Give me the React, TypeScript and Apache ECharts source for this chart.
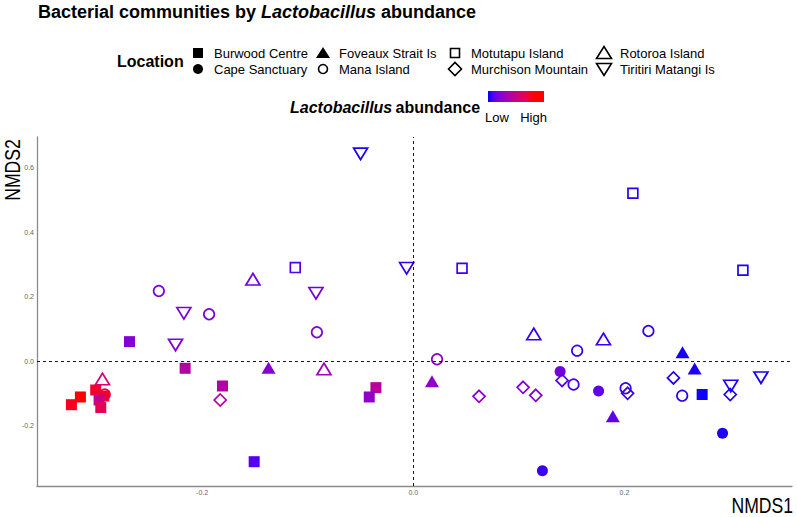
import React, { useEffect, useRef } from 'react';
import * as echarts from 'echarts';

// ---------- data: [NMDS1, NMDS2, Lactobacillus abundance (0 = low, 1 = high)] ----------
const burwoodCentre = [
  [-0.3238, -0.1344, 0.95], [-0.3153, -0.1105, 1.0], [-0.3008, -0.0889, 0.92],
  [-0.2932, -0.1074, 0.95], [-0.2976, -0.1198, 0.55], [-0.296, -0.143, 0.82],
  [-0.2688, 0.0607, 0.28], [-0.2161, -0.0217, 0.5], [-0.1807, -0.0765, 0.5],
  [-0.1507, -0.3108, 0.12], [-0.0354, -0.0817, 0.52], [-0.0417, -0.1105, 0.33],
  [0.2736, -0.1028, 0.02],
];
const capeSanctuary = [
  [0.1391, -0.0316, 0.22], [0.1755, -0.092, 0.15], [0.1223, -0.3387, 0.08], [0.2929, -0.2229, 0.04],
];
const foveauxStrait = [
  [-0.1371, -0.0198, 0.28], [0.0177, -0.0619, 0.32], [0.189, -0.1703, 0.15],
  [0.255, 0.0279, 0.03], [0.2665, -0.0223, 0.04],
];
const manaIsland = [
  [-0.241, 0.2176, 0.23], [-0.1934, 0.1455, 0.23], [-0.0913, 0.0898, 0.26],
  [-0.2922, -0.1028, 0.8], [0.0225, 0.0062, 0.3], [0.1552, 0.0328, 0.08],
  [0.1518, -0.0718, 0.1], [0.2227, 0.0938, 0.07], [0.2011, -0.0836, 0.08], [0.2547, -0.1065, 0.05],
];
const motutapuIsland = [
  [-0.1118, 0.2898, 0.12], [0.0462, 0.2879, 0.08], [0.208, 0.5201, 0.05], [0.3122, 0.2817, 0.04],
];
const murchisonMountain = [
  [-0.1829, -0.1198, 0.5], [0.0623, -0.1084, 0.3], [0.104, -0.0805, 0.26],
  [0.116, -0.1053, 0.26], [0.1409, -0.0594, 0.12], [0.203, -0.0991, 0.08],
  [0.2464, -0.0517, 0.05], [0.3002, -0.1028, 0.04],
];
const rotoroaIsland = [
  [-0.1519, 0.2539, 0.2], [-0.0846, -0.0238, 0.4], [-0.2944, -0.0548, 0.7],
  [0.1141, 0.0845, 0.08], [0.1801, 0.069, 0.08],
];
const tiritiriMatangi = [
  [-0.0499, 0.6418, 0.04], [-0.0063, 0.2879, 0.07], [-0.0922, 0.2105, 0.2],
  [-0.2173, 0.1486, 0.25], [-0.2252, 0.0505, 0.27], [0.3007, -0.0765, 0.04], [0.3293, -0.0508, 0.03],
];

const LOCATIONS = [
  'Burwood Centre', 'Cape Sanctuary', 'Foveaux Strait Is', 'Mana Island',
  'Motutapu Island', 'Murchison Mountain', 'Rotoroa Island', 'Tiritiri Matangi Is',
];
const LOCATION_DATA = [
  burwoodCentre, capeSanctuary, foveauxStrait, manaIsland,
  motutapuIsland, murchisonMountain, rotoroaIsland, tiritiriMatangi,
];
const X_TICKS = [-0.2, 0, 0.2];
const Y_TICKS = [-0.2, 0, 0.2, 0.4, 0.6];
const COLOR_LABELS = ['Low', 'High'];

// ---------- styles ----------
const F = '"Liberation Sans", Arial, sans-serif';
const COLOR_STOPS = ['#0000FF', '#5A00EE', '#7E00D9', '#9C00BF', '#B400A3', '#C90086', '#DC0068', '#EE0046', '#FF0000'];
const SHAPES: any[] = [
  { symbol: 'rect', size: 11, filled: true },
  { symbol: 'circle', size: 11, filled: true },
  { symbol: 'triangle', size: [14, 12], filled: true },
  { symbol: 'circle', size: 10.5, filled: false },
  { symbol: 'rect', size: 9.8, filled: false },
  { symbol: 'diamond', size: 12, filled: false },
  { symbol: 'triangle', size: [14, 11.5], filled: false },
  { symbol: 'triangle', size: [14, 11.5], filled: false, rotate: 180 },
];

const colorOf = (a: number) => echarts.color.lerp(a, COLOR_STOPS) as string;

function legendSymbol(i: number, cx: number, cy: number): any {
  const s = { fill: '#000', stroke: '#000', lineWidth: 0 };
  const h = { fill: 'none', stroke: '#000', lineWidth: 1.6 };
  switch (i) {
    case 0: return { type: 'rect', shape: { x: cx - 5, y: cy - 5, width: 10, height: 10 }, style: s };
    case 1: return { type: 'circle', shape: { cx, cy, r: 5 }, style: s };
    case 2: return { type: 'polygon', shape: { points: [[cx - 7, cy + 5], [cx + 7, cy + 5], [cx, cy - 6]] }, style: s };
    case 3: return { type: 'circle', shape: { cx, cy, r: 4.5 }, style: h };
    case 4: return { type: 'rect', shape: { x: cx - 4.5, y: cy - 4.5, width: 9, height: 9 }, style: h };
    case 5: return { type: 'polygon', shape: { points: [[cx - 6.5, cy], [cx, cy - 6.5], [cx + 6.5, cy], [cx, cy + 6.5]] }, style: h };
    case 6: return { type: 'polygon', shape: { points: [[cx - 7.5, cy + 5.5], [cx + 7.5, cy + 5.5], [cx, cy - 6.5]] }, style: h };
    default: return { type: 'polygon', shape: { points: [[cx - 7.5, cy - 5.5], [cx + 7.5, cy - 5.5], [cx, cy + 6.5]] }, style: h };
  }
}

export default function App() {
  const ref = useRef<HTMLDivElement>(null);
  useEffect(() => {
    if (!ref.current) return;
    const chart = echarts.init(ref.current, null, { renderer: 'svg' });

    const series: any[] = [
      {
        type: 'scatter', data: [], z: 1, silent: true,
        markLine: {
          silent: true, symbol: ['none', 'none'], label: { show: false },
          lineStyle: { color: '#000', type: [3, 3], width: 0.9 },
          data: [{ xAxis: 0 }, { yAxis: 0 }],
        },
      },
    ];
    LOCATIONS.forEach((name, i) => {
      const sh = SHAPES[i];
      series.push({
        type: 'scatter', name, z: 2, silent: true,
        symbol: sh.symbol, symbolSize: sh.size, symbolRotate: sh.rotate || 0,
        data: LOCATION_DATA[i].map((d) => {
          const c = colorOf(d[2]);
          return {
            value: [d[0], d[1]],
            itemStyle: sh.filled
              ? { color: c, borderWidth: 0, opacity: 1 }
              : { color: 'rgba(0,0,0,0)', borderColor: c, borderWidth: 1.7, opacity: 1 },
          };
        }),
      });
    });

    // legend columns
    const colX = [198, 323, 455, 604];
    const rowY = [53, 69];
    const legendEls: any[] = [];
    LOCATIONS.forEach((name, i) => {
      const cx = colX[Math.floor(i / 2)];
      const cy = rowY[i % 2];
      legendEls.push(legendSymbol(i, cx, cy));
      legendEls.push({
        type: 'text', x: cx + 16, y: cy,
        style: { text: name, font: `13px ${F}`, fill: '#000', textAlign: 'left', textVerticalAlign: 'middle', align: 'left', verticalAlign: 'middle' },
      });
    });

    const gradStops: any[] = COLOR_STOPS.map((c, k) => ({ offset: (k / (COLOR_STOPS.length - 1)) * 0.8, color: c }));
    gradStops.push({ offset: 1, color: '#FF0000' });

    const option: any = {
      animation: false,
      backgroundColor: '#fff',
      grid: { left: 37, right: 5, top: 137, bottom: 31, containLabel: false },
      xAxis: {
        type: 'value', min: -0.3564, max: 0.3587,
        splitLine: { show: false },
        axisLine: { onZero: false, lineStyle: { color: '#8a8a8a', width: 1.3 } },
        axisTick: { show: false },
        axisLabel: { customValues: X_TICKS, formatter: (v: number) => v.toFixed(1), fontSize: 7, color: '#666', margin: 3, fontFamily: F },
      },
      yAxis: {
        type: 'value', min: -0.386, max: 0.694,
        splitLine: { show: false },
        axisLine: { onZero: false, lineStyle: { color: '#8a8a8a', width: 1.3 } },
        axisTick: { show: false },
        axisLabel: { customValues: Y_TICKS, formatter: (v: number) => v.toFixed(1), fontSize: 7, color: '#666', margin: 3, fontFamily: F },
      },
      series,
      graphic: [
        {
          type: 'text', x: 38, y: 12,
          style: {
            text: '{b|Bacterial communities by }{i|Lactobacillus}{b| abundance}',
            rich: {
              b: { fontSize: 18, fontWeight: 'bold', fontFamily: F, fill: '#000', color: '#000' },
              i: { fontSize: 18, fontWeight: 'bold', fontStyle: 'italic', fontFamily: F, fill: '#000', color: '#000' },
            },
            textVerticalAlign: 'middle', verticalAlign: 'middle',
          },
        },
        {
          type: 'text', x: 117, y: 61,
          style: { text: 'Location', font: `bold 16px ${F}`, fill: '#000', textVerticalAlign: 'middle', verticalAlign: 'middle' },
        },
        ...legendEls,
        {
          type: 'text', x: 290, y: 107,
          style: {
            text: '{i|Lactobacillus} {b|abundance}',
            rich: {
              b: { fontSize: 16, fontWeight: 'bold', fontFamily: F, fill: '#000', color: '#000' },
              i: { fontSize: 16, fontWeight: 'bold', fontStyle: 'italic', fontFamily: F, fill: '#000', color: '#000' },
            },
            textVerticalAlign: 'middle', verticalAlign: 'middle',
          },
        },
        {
          type: 'rect', shape: { x: 488, y: 91, width: 56, height: 11 },
          style: { fill: new echarts.graphic.LinearGradient(0, 0, 1, 0, gradStops) },
        },
        {
          type: 'text', x: 497, y: 117,
          style: { text: COLOR_LABELS[0], font: `13px ${F}`, fill: '#000', textAlign: 'center', align: 'center', textVerticalAlign: 'middle', verticalAlign: 'middle' },
        },
        {
          type: 'text', x: 533.5, y: 117,
          style: { text: COLOR_LABELS[1], font: `13px ${F}`, fill: '#000', textAlign: 'center', align: 'center', textVerticalAlign: 'middle', verticalAlign: 'middle' },
        },
        {
          type: 'text', x: 793, y: 505, scaleX: 0.8,
          style: { text: 'NMDS1', font: `22px ${F}`, fill: '#000', textAlign: 'right', align: 'right', textVerticalAlign: 'middle', verticalAlign: 'middle' },
        },
        {
          type: 'text', x: 12, y: 170, rotation: Math.PI / 2, scaleX: 0.8,
          style: { text: 'NMDS2', font: `22px ${F}`, fill: '#000', textAlign: 'center', align: 'center', textVerticalAlign: 'middle', verticalAlign: 'middle' },
        },
      ],
    };
    chart.setOption(option);
    return () => chart.dispose();
  }, []);

  return <div ref={ref} style={{ position: 'absolute', left: 0, top: 0, width: 797, height: 517 }} />;
}
